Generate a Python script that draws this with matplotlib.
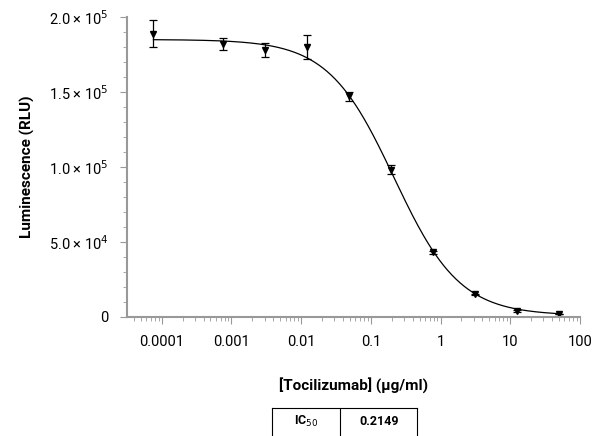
import numpy as np
import matplotlib.pyplot as plt
from matplotlib.ticker import FuncFormatter, MultipleLocator, LogLocator

conc = [0.000076, 0.00076, 0.00305, 0.0122, 0.049, 0.195, 0.78, 3.125, 12.5, 50]
rlu = [1.89e5, 1.82e5, 1.78e5, 1.80e5, 1.47e5, 0.98e5, 0.43e5, 0.15e5, 0.04e5, 0.02e5]
err = [0.09e5, 0.04e5, 0.05e5, 0.08e5, 0.03e5, 0.03e5, 0.01e5, 0.005e5, 0.004e5, 0.003e5]
top, bottom, ic50, hill = 1.85e5, 0.01e5, 0.2149, 0.92

plt.rcParams['font.family'] = ['Roboto', 'DejaVu Sans']
fig = plt.figure(figsize=(6.13, 4.36), dpi=100)
ax = fig.add_axes([0.207, 0.273, 0.739, 0.688])

xs = np.logspace(np.log10(conc[0]), np.log10(conc[-1]), 300)
ax.plot(xs, bottom + (top - bottom) / (1 + (xs / ic50) ** hill), color='black', lw=0.9)
ax.errorbar(conc, rlu, yerr=err, fmt='v', color='black', ms=5, capsize=3, elinewidth=0.9, capthick=0.9)

ax.set_xscale('log')
ax.set_xlim(10 ** -4.5, 100)
ax.set_ylim(0, 2e5)
ax.xaxis.set_major_locator(LogLocator(base=10, numticks=20))
ax.xaxis.set_minor_locator(LogLocator(base=10, subs=np.arange(2, 10), numticks=20))
ax.xaxis.set_major_formatter(FuncFormatter(lambda v, p: f"{v:g}" if v >= 1 else f"{v:.{int(round(-np.log10(v)))}f}"))
ax.yaxis.set_major_locator(MultipleLocator(5e4))
ax.yaxis.set_minor_locator(MultipleLocator(1e4))
labels = {0: '0', 5e4: r'5.0 × 10$^4$', 1e5: r'1.0 × 10$^5$', 1.5e5: r'1.5 × 10$^5$', 2e5: r'2.0 × 10$^5$'}
ax.yaxis.set_major_formatter(FuncFormatter(lambda v, p: labels.get(v, '')))

for s in ['top', 'right']:
    ax.spines[s].set_visible(False)
for s in ['left', 'bottom']:
    ax.spines[s].set_color('#999999')
    ax.spines[s].set_linewidth(1.5)
ax.tick_params(which='both', color='#999999', labelsize=10.5, pad=8)
ax.tick_params(which='major', length=5)
ax.tick_params(which='minor', length=3)
ax.set_ylabel('Luminescence (RLU)', fontsize=11, fontweight='bold', labelpad=10)
ax.set_xlabel('[Tocilizumab] (µg/ml)', fontsize=11, fontweight='bold', labelpad=20)

tab = fig.add_axes([0.444, 0.0, 0.237, 0.065])
tab.set_xlim(0, 1); tab.set_ylim(0, 1)
tab.set_xticks([]); tab.set_yticks([])
tab.spines['bottom'].set_visible(False)
tab.axvline(0.47, color='black', lw=0.8)
tab.text(0.235, 0.5, r'IC$_{50}$', ha='center', va='center', fontsize=9, fontweight='bold')
tab.text(0.735, 0.5, '0.2149', ha='center', va='center', fontsize=9, fontweight='bold')

fig.savefig('out.png', dpi=100)
